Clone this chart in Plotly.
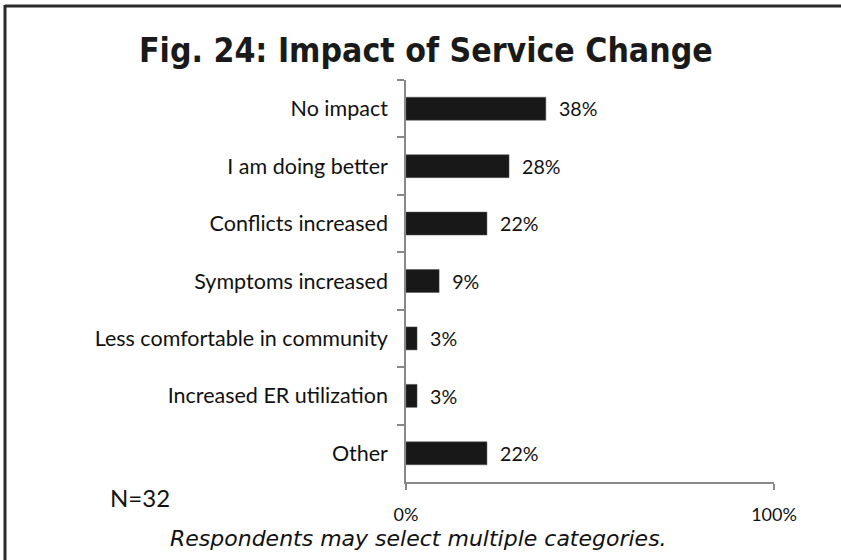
import plotly.graph_objects as go

categories = ["No impact", "I am doing better", "Conflicts increased", "Symptoms increased",
              "Less comfortable in community", "Increased ER utilization", "Other"]
values = [0.38, 0.28, 0.22, 0.09, 0.03, 0.03, 0.22]
labels = ["38%", "28%", "22%", "9%", "3%", "3%", "22%"]
x_ticks = [0, 1]
x_tick_labels = ["0%", "100%"]

L, R, T, B = 406, 67, 80, 78
W, H = 841, 560
pw, ph = W - L - R, H - T - B

def px_x(p):
    return (p - L) / pw

def px_y(p):
    return (H - B - p) / ph

fig = go.Figure(go.Bar(
    y=categories, x=values, orientation="h",
    marker=dict(color="#181818", line=dict(color="#555", width=0.5)),
    width=0.4,
    text=["  " + t for t in labels], textposition="outside",
    textfont=dict(family="Lato", size=20.5, color="#111"),
    cliponaxis=False,
))

fig.update_layout(
    width=W, height=H,
    margin=dict(l=L, r=R, t=T, b=B),
    paper_bgcolor="white", plot_bgcolor="white",
    showlegend=False,
    font=dict(family="Lato", color="#111"),
    xaxis=dict(range=[0, 1], tickvals=x_ticks, ticktext=x_tick_labels,
               showgrid=True, gridcolor="#888", gridwidth=1.5,
               showline=True, linecolor="#888", linewidth=1.5,
               ticks="outside", ticklen=6, tickcolor="#888", tickwidth=1.5,
               tickfont=dict(family="Lato", size=18, color="#111"),
               ticklabelstandoff=10, zeroline=False),
    yaxis=dict(autorange="reversed", showline=True, linecolor="#888", linewidth=1.5,
               ticks="outside", ticklen=7, tickcolor="#888", tickwidth=1.5,
               tickson="boundaries",
               tickfont=dict(family="Lato", size=21.5, color="#111"),
               ticklabelstandoff=12, showgrid=False),
    bargap=0.6,
)

fig.add_annotation(text="<b>Fig. 24: Impact of Service Change</b>", xref="paper", yref="paper",
                   x=px_x(426), y=px_y(50), xanchor="center", yanchor="middle", showarrow=False,
                   font=dict(family="DejaVu Sans Condensed, Roboto Condensed, Roboto", size=33.5, color="#1a1a1a"))
fig.add_annotation(text="N=32", xref="paper", yref="paper",
                   x=px_x(108), y=px_y(497), xanchor="left", yanchor="middle", showarrow=False,
                   font=dict(family="Lato", size=24, color="#111"))
fig.add_annotation(text="<i>Respondents may select multiple categories.</i>", xref="paper", yref="paper",
                   x=px_x(418), y=px_y(538), xanchor="center", yanchor="middle", showarrow=False,
                   font=dict(family="DejaVu Sans", size=22, color="#111"))

# frame lines (top and left)
fig.add_shape(type="line", xref="paper", yref="paper", x0=px_x(5), x1=px_x(841), y0=px_y(6), y1=px_y(6),
              line=dict(color="#2a2a2a", width=3))
fig.add_shape(type="line", xref="paper", yref="paper", x0=px_x(5), x1=px_x(5), y0=px_y(5), y1=px_y(560),
              line=dict(color="#2a2a2a", width=3))

fig.write_html("out.html", config={"displayModeBar": False},
               post_script="document.body.style.margin='0';document.body.style.overflow='hidden';")
